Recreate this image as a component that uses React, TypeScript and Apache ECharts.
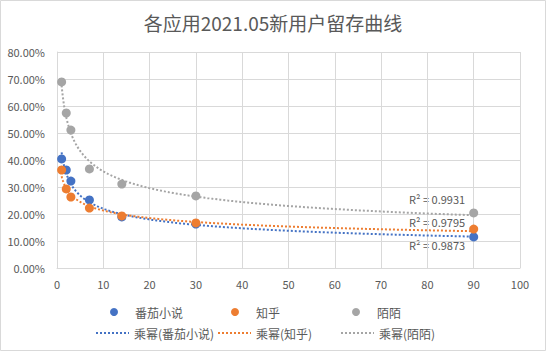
import React, { useEffect, useRef } from "react";
import * as echarts from "echarts";

const days = [1, 2, 3, 7, 14, 30, 90];
const fanqie = [0.404, 0.363, 0.322, 0.252, 0.189, 0.163, 0.115];
const zhihu = [0.363, 0.293, 0.263, 0.222, 0.193, 0.167, 0.144];
const momo = [0.689, 0.574, 0.511, 0.367, 0.311, 0.267, 0.204];
const seriesNames = ["番茄小说", "知乎", "陌陌"];
const trendNames = ["乘幂(番茄小说)", "乘幂(知乎)", "乘幂(陌陌)"];
const r2Labels = ["R² = 0.9873", "R² = 0.9795", "R² = 0.9931"];
const yTicks = [0, 0.1, 0.2, 0.3, 0.4, 0.5, 0.6, 0.7, 0.8];
const xTicks = [0, 10, 20, 30, 40, 50, 60, 70, 80, 90, 100];

const colors = ["#4472C4", "#ED7D31", "#A5A5A5"];
const textColor = "#595959";
const font = "'Noto Sans CJK SC', 'Noto Sans', sans-serif";

// Power regression (least squares in log-log space), like Excel's power trendline
function powerFit(xs: number[], ys: number[]) {
  const lx = xs.map(Math.log);
  const ly = ys.map(Math.log);
  const n = xs.length;
  const mx = lx.reduce((a, b) => a + b, 0) / n;
  const my = ly.reduce((a, b) => a + b, 0) / n;
  let sxy = 0, sxx = 0;
  for (let i = 0; i < n; i++) {
    sxy += (lx[i] - mx) * (ly[i] - my);
    sxx += (lx[i] - mx) * (lx[i] - mx);
  }
  const b = sxy / sxx;
  const a = Math.exp(my - b * mx);
  return { a, b };
}

function trendPoints(xs: number[], ys: number[]) {
  const { a, b } = powerFit(xs, ys);
  const x0 = Math.min(...xs);
  const x1 = Math.max(...xs);
  const pts: number[][] = [];
  const N = 200;
  for (let i = 0; i <= N; i++) {
    const t = i / N;
    const x = x0 + (x1 - x0) * t * t;
    pts.push([x, a * Math.pow(x, b)]);
  }
  return pts;
}

export default function App() {
  const ref = useRef<HTMLDivElement>(null);
  useEffect(() => {
    document.body.style.margin = "0";
    const chart = echarts.init(ref.current!, null, { renderer: "svg" });
    const allData = [fanqie, zhihu, momo];
    const scatterSeries = allData.map((vals, i) => ({
      name: seriesNames[i],
      type: "scatter",
      data: days.map((d, j) => [d, vals[j]]),
      symbolSize: 9,
      itemStyle: { color: colors[i], opacity: 1 },
      z: 5,
    }));
    const lineSeries = allData.map((vals, i) => ({
      name: trendNames[i],
      type: "line",
      data: trendPoints(days, vals),
      symbol: "none",
      lineStyle: { color: colors[i], width: 2, type: [2, 2] },
      itemStyle: { color: colors[i] },
      z: 3,
    }));
    const legendBase = {
      textStyle: { color: textColor, fontSize: 12, fontFamily: font },
      itemGap: 0,
    };
    const row1Left = [105, 226, 347];
    const row2Left = [90, 212, 335];
    const legends: any[] = [];
    seriesNames.forEach((n, i) =>
      legends.push({
        ...legendBase,
        data: [{ name: n, icon: "circle" }],
        left: row1Left[i],
        top: 301,
        itemWidth: 32,
        itemHeight: 8,
      })
    );
    trendNames.forEach((n, i) =>
      legends.push({
        ...legendBase,
        data: [n],
        left: row2Left[i],
        top: 322,
        itemWidth: 33,
        itemHeight: 8,
        itemStyle: { opacity: 0 },
      })
    );
    const r2Y = [246, 223, 200];
    chart.setOption({
      animation: false,
      title: {
        text: "各应用2021.05新用户留存曲线",
        left: "center",
        top: 8,
        textStyle: { color: textColor, fontSize: 19, fontWeight: "normal", fontFamily: font },
      },
      grid: { left: 57, right: 26, top: 52, bottom: 83 },
      legend: legends,
      xAxis: {
        type: "value",
        min: xTicks[0],
        max: xTicks[xTicks.length - 1],
        interval: 10,
        axisLine: { show: true, lineStyle: { color: "#d9d9d9" } },
        axisTick: { show: false },
        splitLine: { show: true, lineStyle: { color: "#d9d9d9" } },
        axisLabel: { color: textColor, fontSize: 11, fontFamily: font, margin: 10 },
      },
      yAxis: {
        type: "value",
        min: yTicks[0],
        max: yTicks[yTicks.length - 1],
        interval: 0.1,
        axisLine: { show: true, lineStyle: { color: "#d9d9d9" } },
        axisTick: { show: false },
        splitLine: { show: true, lineStyle: { color: "#d9d9d9" } },
        axisLabel: {
          color: textColor,
          fontSize: 11,
          fontFamily: font,
          margin: 12,
          formatter: (v: number) => (v * 100).toFixed(2) + "%",
        },
      },
      graphic: [
        {
          type: "rect",
          shape: { x: 0.5, y: 0.5, width: 545, height: 350 },
          style: { fill: "none", stroke: "#d9d9d9", lineWidth: 1 },
          silent: true,
        },
        ...r2Labels.map((t, i) => ({
          type: "text",
          left: 409,
          top: r2Y[i] - 7,
          style: { text: t, fill: textColor, fontSize: 11, fontFamily: font },
        })),
      ],
      series: [...lineSeries, ...scatterSeries],
    });
    return () => chart.dispose();
  }, []);
  return <div ref={ref} style={{ width: 546, height: 351 }} />;
}
